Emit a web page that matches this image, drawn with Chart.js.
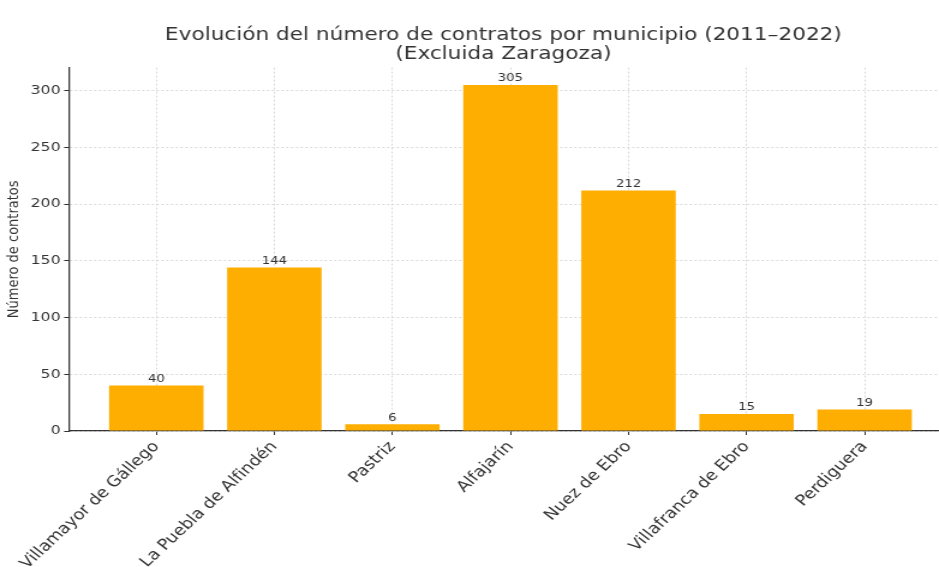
<!DOCTYPE html>
<html lang="es">
  <head>
    <meta charset="UTF-8" />
    <title>Contratos por municipio</title>
    <script src="https://cdn.jsdelivr.net/npm/chart.js"></script>
    <style>
      html, body { margin: 0; padding: 0; background: #fff; }
      /* la imagen original está algo estirada en horizontal */
      #myChart { display: block; width: 939px; height: 567px; }
    </style>
  </head>
  <body>
    <canvas id="myChart" width="782" height="567" style="width: 939px; height: 567px"></canvas>

    <script>
      const municipios = [
        "Villamayor de Gállego",
        "La Puebla de Alfindén",
        "Pastriz",
        "Alfajarín",
        "Nuez de Ebro",
        "Villafranca de Ebro",
        "Perdiguera",
      ];
      const contratos = [40, 144, 6, 305, 212, 15, 19];
      const yTicks = [0, 50, 100, 150, 200, 250, 300];

      const textColor = "#333333";
      const font = "DejaVu Sans";

      // etiquetas encima de cada barra
      const valueLabels = {
        id: "valueLabels",
        afterDatasetsDraw(chart) {
          const ctx = chart.ctx;
          const meta = chart.getDatasetMeta(0);
          ctx.save();
          ctx.font = "11px '" + font + "'";
          ctx.fillStyle = textColor;
          ctx.textAlign = "center";
          ctx.textBaseline = "bottom";
          meta.data.forEach((bar, i) => {
            ctx.fillText(contratos[i], bar.x, bar.y - 1);
          });
          ctx.restore();
        },
      };

      const gridOpts = {
        color: "#d9d9d9",
        offset: false,
        tickBorderDash: [],
        tickColor: textColor,
        tickLength: 4,
      };

      const ctx = document.getElementById("myChart").getContext("2d");
      const myChart = new Chart(ctx, {
        type: "bar",
        data: {
          datasets: [
            {
              label: "Contratos",
              data: contratos.map((v, i) => ({ x: i, y: v })),
              backgroundColor: "#FDAE00",
              borderWidth: 0,
              barPercentage: 0.8,
              categoryPercentage: 1,
            },
          ],
        },
        options: {
          responsive: false,
          animation: false,
          devicePixelRatio: 1,
          layout: { padding: { top: 25, right: 1, left: 4, bottom: 0 } },
          plugins: {
            legend: { display: false },
            tooltip: { enabled: false },
            title: {
              display: true,
              fullSize: false,
              text: [
                "Evolución del número de contratos por municipio (2011–2022)",
                "(Excluida Zaragoza)",
              ],
              color: textColor,
              font: { family: font, size: 18, weight: "normal", lineHeight: 1.1 },
              padding: { top: 0, bottom: 3 },
            },
          },
          scales: {
            x: {
              type: "linear",
              min: -0.74,
              max: 6.62,
              offset: false,
              afterBuildTicks: (scale) => {
                scale.ticks = municipios.map((m, i) => ({ value: i }));
              },
              ticks: {
                callback: (v) => municipios[v],
                color: textColor,
                font: { family: font, size: 15 },
                maxRotation: 48,
                minRotation: 48,
                padding: 3,
              },
              grid: gridOpts,
              border: { display: true, color: textColor, width: 1.3, dash: [2, 2] },
              afterFit: (scale) => {
                scale.height = 136;
              },
            },
            y: {
              min: 0,
              max: 320.25,
              afterBuildTicks: (scale) => {
                scale.ticks = yTicks.map((v) => ({ value: v }));
              },
              ticks: {
                color: textColor,
                font: { family: font, size: 13 },
                padding: 3,
              },
              grid: gridOpts,
              border: { display: true, color: textColor, width: 1.3, dash: [2, 2] },
              title: {
                display: true,
                text: "Número de contratos",
                color: textColor,
                font: { family: font, size: 13 },
                padding: { top: 0, bottom: 3 },
              },
            },
          },
        },
        plugins: [valueLabels],
      });
    </script>
  </body>
</html>
